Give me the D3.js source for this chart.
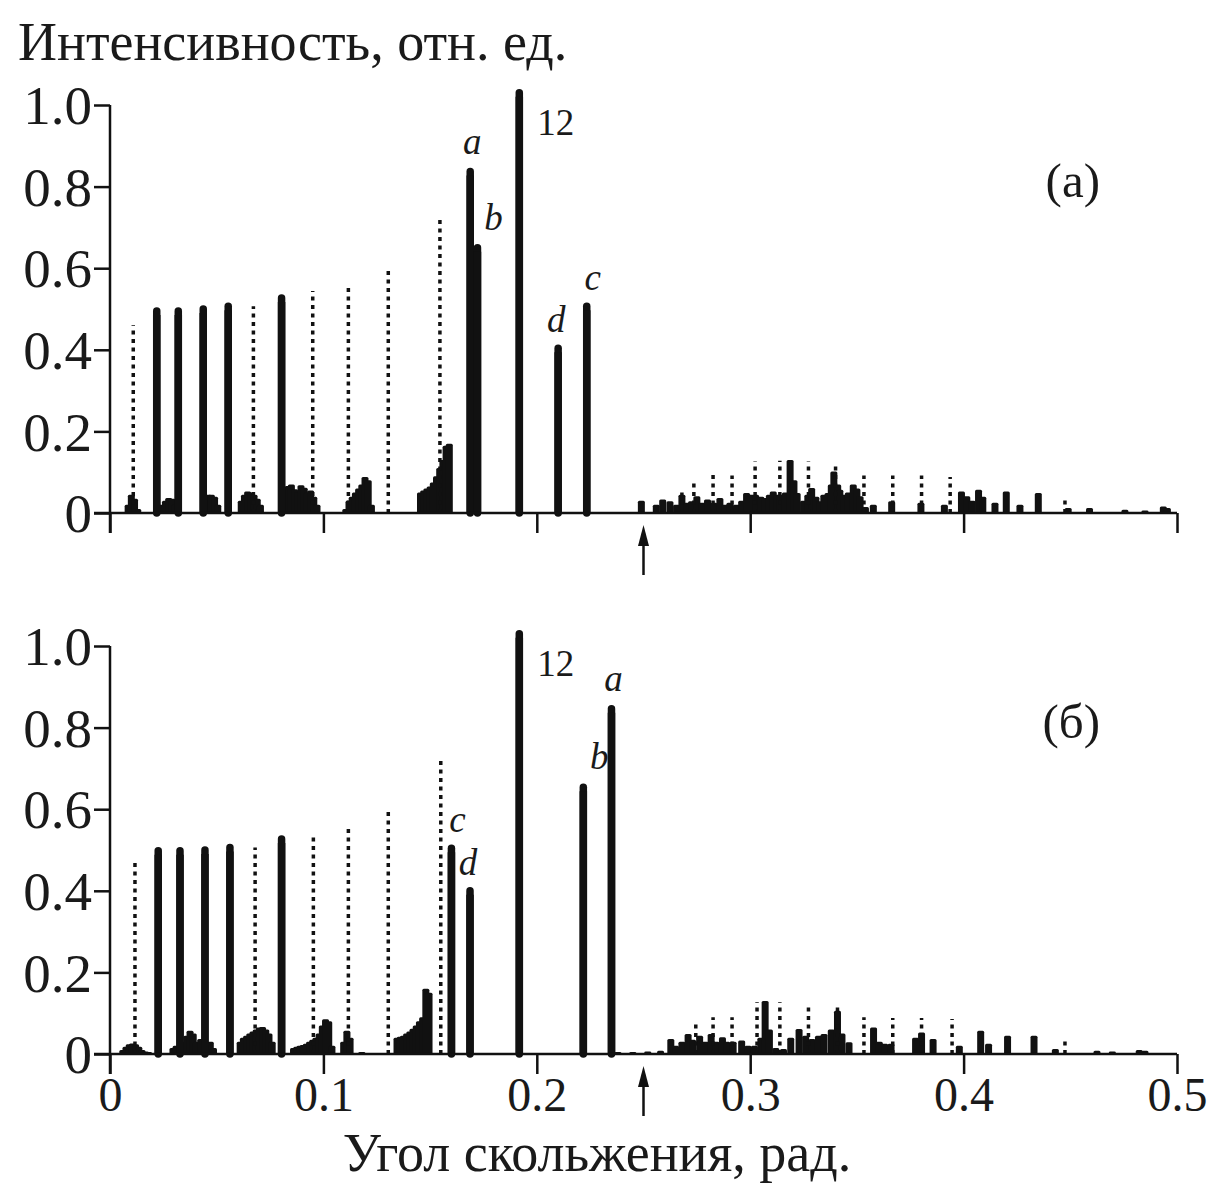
<!DOCTYPE html>
<html><head><meta charset="utf-8">
<script src="https://cdn.jsdelivr.net/npm/d3@7"></script>
<style>
html,body{margin:0;padding:0;background:#fff;}
svg{display:block;}
text{font-family:"Liberation Serif","Times New Roman",serif;fill:#1a1a1a;}
</style></head>
<body>
<svg id="chart" width="1213" height="1185"></svg>
<script>
// ---------- data (angle in rad, relative intensity) ----------
const xTicks = [0, 0.1, 0.2, 0.3, 0.4, 0.5];
const xTickLabels = ["0", "0.1", "0.2", "0.3", "0.4", "0.5"];
const yTicks = [0, 0.2, 0.4, 0.6, 0.8, 1.0];
const yTickLabels = ["0", "0.2", "0.4", "0.6", "0.8", "1.0"];
const yTitle = "Интенсивность, отн. ед.";
const xTitle = "Угол скольжения, рад.";
const panelNames = ["(а)", "(б)"];
const arrowAngle = 0.25;

// panel (a)
const solidA = [[0.0219,0.495],[0.032,0.495],[0.0437,0.50],[0.0554,0.507],[0.0804,0.527],
  [0.1688,0.837],[0.1722,0.65],[0.1918,1.03],[0.2100,0.404],[0.2234,0.507]];
const dottedA = [[0.0109,0.46],[0.0672,0.507],[0.0950,0.544],[0.1117,0.56],[0.1304,0.60],[0.1546,0.719],
  [0.2680,0.05],[0.2736,0.08],[0.2826,0.094],[0.2915,0.092],[0.3023,0.126],[0.3139,0.128],[0.3273,0.126],
  [0.3400,0.12],[0.3533,0.092],[0.3668,0.092],[0.3803,0.092],[0.3937,0.088],[0.4475,0.04]];
const clutterA = [
  [0.0085,0.02],[0.0100,0.045],[0.0115,0.035],[0.0130,0.01],
  [0.0245,0.02],[0.0260,0.03],[0.0275,0.037],[0.0290,0.035],[0.0305,0.02],
  [0.0445,0.03],[0.0460,0.045],[0.0475,0.045],[0.0490,0.04],[0.0505,0.02],
  [0.0615,0.03],[0.0630,0.045],[0.0645,0.053],[0.0660,0.05],[0.0675,0.045],[0.0690,0.035],[0.0705,0.02],
  [0.0835,0.066],[0.0850,0.07],[0.0865,0.058],[0.0880,0.05],[0.0895,0.068],[0.0910,0.062],[0.0925,0.05],[0.0940,0.055],[0.0955,0.04],[0.0970,0.02],
  [0.1105,0.01],[0.1120,0.03],[0.1135,0.04],[0.1150,0.05],[0.1165,0.06],[0.1180,0.07],[0.1195,0.088],[0.1210,0.08],[0.1225,0.02],
  [0.1455,0.05],[0.1470,0.055],[0.1485,0.06],[0.1500,0.065],[0.1515,0.075],[0.1530,0.09],[0.1545,0.11],[0.1560,0.13],[0.1575,0.165],[0.1590,0.17],
  [0.2490,0.03],[0.2560,0.02],[0.2590,0.033],[0.2624,0.029],[0.2655,0.02],[0.2680,0.045],[0.2705,0.025],[0.2725,0.029],
  [0.2750,0.041],[0.2775,0.025],[0.2800,0.033],[0.2830,0.025],[0.2858,0.037],[0.2880,0.02],[0.2905,0.025],[0.2935,0.02],
  [0.2960,0.03],[0.2983,0.049],[0.3005,0.045],[0.3025,0.045],[0.3050,0.04],[0.3070,0.037],[0.3090,0.045],[0.3108,0.053],
  [0.3125,0.045],[0.3140,0.045],[0.3165,0.05],[0.3187,0.13],[0.3205,0.08],[0.3220,0.049],[0.3250,0.03],[0.3270,0.045],
  [0.3288,0.061],[0.3308,0.04],[0.3327,0.029],[0.3345,0.045],[0.3365,0.049],[0.3380,0.07],[0.3392,0.102],[0.3410,0.07],
  [0.3420,0.057],[0.3440,0.045],[0.3460,0.05],[0.3483,0.07],[0.3500,0.06],[0.3515,0.041],[0.3540,0.015],[0.3577,0.02],
  [0.3663,0.029],[0.3800,0.025],[0.3910,0.02],[0.3990,0.053],[0.4015,0.041],[0.4040,0.03],[0.4070,0.057],[0.4090,0.04],
  [0.4147,0.025],[0.4200,0.053],[0.4264,0.02],[0.4350,0.049],[0.4490,0.012],[0.4590,0.012],[0.4756,0.008],[0.4850,0.006],
  [0.4936,0.016],[0.4955,0.012]
];
const peakLabelsA = [["12",0.1918,1.03],["a",0.1688,0.837],["b",0.1722,0.65],["d",0.2100,0.404],["c",0.2234,0.507]];

// panel (б)
const solidB = [[0.0226,0.498],[0.0328,0.498],[0.0445,0.50],[0.0562,0.506],[0.0804,0.527],
  [0.1600,0.504],[0.1687,0.40],[0.1918,1.03],[0.2218,0.654],[0.2350,0.846]];
const dottedB = [[0.0117,0.47],[0.0680,0.506],[0.0953,0.539],[0.1117,0.558],[0.1304,0.596],[0.1550,0.719],
  [0.2628,0.037],[0.2745,0.082],[0.2826,0.09],[0.2915,0.09],[0.3032,0.127],[0.3139,0.127],[0.3273,0.123],
  [0.3409,0.119],[0.3533,0.09],[0.3668,0.088],[0.3803,0.088],[0.3946,0.086],[0.4475,0.037]];
const clutterB = [
  [0.0060,0.01],[0.0075,0.018],[0.0090,0.024],[0.0105,0.026],[0.0120,0.024],[0.0135,0.018],[0.0150,0.01],[0.0165,0.006],[0.0180,0.005],
  [0.0295,0.015],[0.0310,0.02],[0.0345,0.03],[0.0360,0.045],[0.0375,0.057],[0.0390,0.05],[0.0405,0.03],[0.0425,0.037],[0.0470,0.03],[0.0485,0.015],
  [0.0610,0.03],[0.0625,0.04],[0.0640,0.045],[0.0655,0.05],[0.0670,0.055],[0.0685,0.06],[0.0700,0.065],[0.0715,0.066],[0.0730,0.06],[0.0745,0.05],[0.0760,0.03],
  [0.0860,0.015],[0.0875,0.018],[0.0890,0.02],[0.0905,0.022],[0.0920,0.025],[0.0935,0.03],[0.0950,0.035],[0.0965,0.04],[0.0980,0.05],[0.0995,0.07],[0.1010,0.085],[0.1025,0.08],[0.1040,0.02],
  [0.1095,0.03],[0.1110,0.057],[0.1125,0.04],[0.1180,0.005],
  [0.1345,0.04],[0.1360,0.042],[0.1375,0.045],[0.1390,0.05],[0.1405,0.055],[0.1420,0.062],[0.1435,0.07],[0.1450,0.08],[0.1465,0.09],[0.1480,0.16],[0.1495,0.15],
  [0.2380,0.005],[0.2450,0.005],[0.2520,0.006],[0.2580,0.008],[0.2628,0.037],[0.2650,0.02],[0.2680,0.03],[0.2709,0.049],
  [0.2730,0.035],[0.2763,0.045],[0.2790,0.03],[0.2817,0.049],[0.2840,0.03],[0.2870,0.041],[0.2890,0.03],[0.2920,0.03],
  [0.2960,0.033],[0.2990,0.02],[0.3020,0.02],[0.3050,0.04],[0.3070,0.13],[0.3090,0.06],[0.3120,0.015],[0.3156,0.012],
  [0.3190,0.04],[0.3229,0.061],[0.3260,0.045],[0.3290,0.037],[0.3320,0.045],[0.3346,0.049],[0.3380,0.06],[0.3409,0.106],
  [0.3430,0.05],[0.3463,0.029],[0.3578,0.065],[0.3605,0.03],[0.3630,0.025],[0.3660,0.025],[0.3775,0.04],[0.3803,0.053],
  [0.3857,0.037],[0.3980,0.02],[0.4080,0.057],[0.4117,0.025],[0.4206,0.045],[0.4330,0.045],[0.4430,0.012],[0.4625,0.008],
  [0.4697,0.006],[0.4823,0.01],[0.4850,0.008]
];
const peakLabelsB = [["12",0.1918,1.03],["a",0.2350,0.846],["b",0.2218,0.654],["c",0.1600,0.504],["d",0.1687,0.40]];

// ---------- drawing ----------
const svg = d3.select("#chart");
svg.append("rect").attr("width",1213).attr("height",1185).attr("fill","#fff");
const ink = "#111";
const x = d3.scaleLinear().domain([0, 0.5]).range([110, 1177]);
const yA = d3.scaleLinear().domain([0, 1]).range([513, 105]);
const yB = d3.scaleLinear().domain([0, 1]).range([1054, 646]);

// label offsets (layout only)
const labelOffsets = {"12":[18,30], "a":[2,-18], "b":[16,-18], "c":[6,-16], "d":[-2,-16]};

function panel(y, solid, dotted, clutter, labels, name, showXLabels) {
  const g = svg.append("g");
  // clutter
  g.selectAll(".cl").data(clutter).join("rect")
    .attr("x", d => x(d[0]) - 3.5).attr("width", 7)
    .attr("y", d => y(d[1])).attr("height", d => y(0) - y(d[1]))
    .attr("rx", 1.5)
    .attr("fill", ink);
  // dotted lines
  g.selectAll(".dt").data(dotted).join("line")
    .attr("x1", d => x(d[0])).attr("x2", d => x(d[0]))
    .attr("y1", y(0)).attr("y2", d => y(d[1]))
    .attr("stroke", ink).attr("stroke-width", 3.5).attr("stroke-dasharray", "4,4.5");
  // solid peaks
  g.selectAll(".sd").data(solid).join("line")
    .attr("x1", d => x(d[0])).attr("x2", d => x(d[0]))
    .attr("y1", y(0)).attr("y2", d => y(d[1]))
    .attr("stroke", ink).attr("stroke-width", 7.5).attr("stroke-linecap", "round");
  g.selectAll(".sd2").data(solid).join("line")
    .attr("x1", d => x(d[0])).attr("x2", d => x(d[0]))
    .attr("y1", y(0)).attr("y2", d => y(d[1]) + 4)
    .attr("stroke", ink).attr("stroke-width", 7.5);

  // y axis
  const ya = d3.axisLeft(y).tickValues(yTicks).tickSize(16).tickPadding(2)
    .tickFormat((d, i) => yTickLabels[i]);
  const yg = g.append("g").attr("transform", `translate(${x(0)},0)`).call(ya);
  yg.select(".domain").remove();
  yg.selectAll(".tick line").attr("stroke", ink).attr("stroke-width", 2.5);
  yg.selectAll(".tick text").attr("font-size", 55).attr("font-family", "Liberation Serif")
    .attr("fill", "#1a1a1a").attr("dy", "0.34em");
  g.append("line").attr("x1", x(0)).attr("x2", x(0)).attr("y1", y(1)).attr("y2", y(0) + 20)
    .attr("stroke", ink).attr("stroke-width", 2.5);

  // x axis
  const xa = d3.axisBottom(x).tickValues(xTicks).tickSize(20).tickPadding(3)
    .tickFormat((d, i) => showXLabels ? xTickLabels[i] : "");
  const xg = g.append("g").attr("transform", `translate(0,${y(0)})`).call(xa);
  xg.select(".domain").remove();
  xg.selectAll(".tick line").attr("stroke", ink).attr("stroke-width", 2.5);
  xg.selectAll(".tick text").attr("font-size", 48).attr("font-family", "Liberation Serif").attr("fill", "#1a1a1a");
  g.append("line").attr("x1", x(0) - 16).attr("x2", x(0.5)).attr("y1", y(0)).attr("y2", y(0))
    .attr("stroke", ink).attr("stroke-width", 2.5);

  // arrow
  const ax = x(arrowAngle);
  g.append("line").attr("x1", ax).attr("x2", ax).attr("y1", y(0) + 62).attr("y2", y(0) + 28)
    .attr("stroke", ink).attr("stroke-width", 2.5);
  g.append("path").attr("d", `M${ax},${y(0)+12} L${ax-5.5},${y(0)+33} L${ax+5.5},${y(0)+33} Z`).attr("fill", ink);

  // peak labels
  g.selectAll(".pl").data(labels).join("text")
    .attr("x", d => x(d[1]) + labelOffsets[d[0]][0])
    .attr("y", d => d[0] === "12" ? y(1) + labelOffsets[d[0]][1] : y(d[2]) + labelOffsets[d[0]][1])
    .attr("text-anchor", d => d[0] === "12" ? "start" : "middle")
    .attr("font-size", 37)
    .attr("font-style", d => d[0] === "12" ? "normal" : "italic")
    .text(d => d[0]);

  // panel name
  g.append("text").attr("x", 1100).attr("y", y(1) + 92).attr("text-anchor", "end")
    .attr("font-size", 49).text(name);
}

panel(yA, solidA, dottedA, clutterA, peakLabelsA, panelNames[0], false);
panel(yB, solidB, dottedB, clutterB, peakLabelsB, panelNames[1], true);

svg.append("text").attr("x", 18).attr("y", 60).attr("font-size", 54).text(yTitle);
svg.append("text").attr("x", 597).attr("y", 1171).attr("text-anchor", "middle").attr("font-size", 54).text(xTitle);
</script>
</body></html>
